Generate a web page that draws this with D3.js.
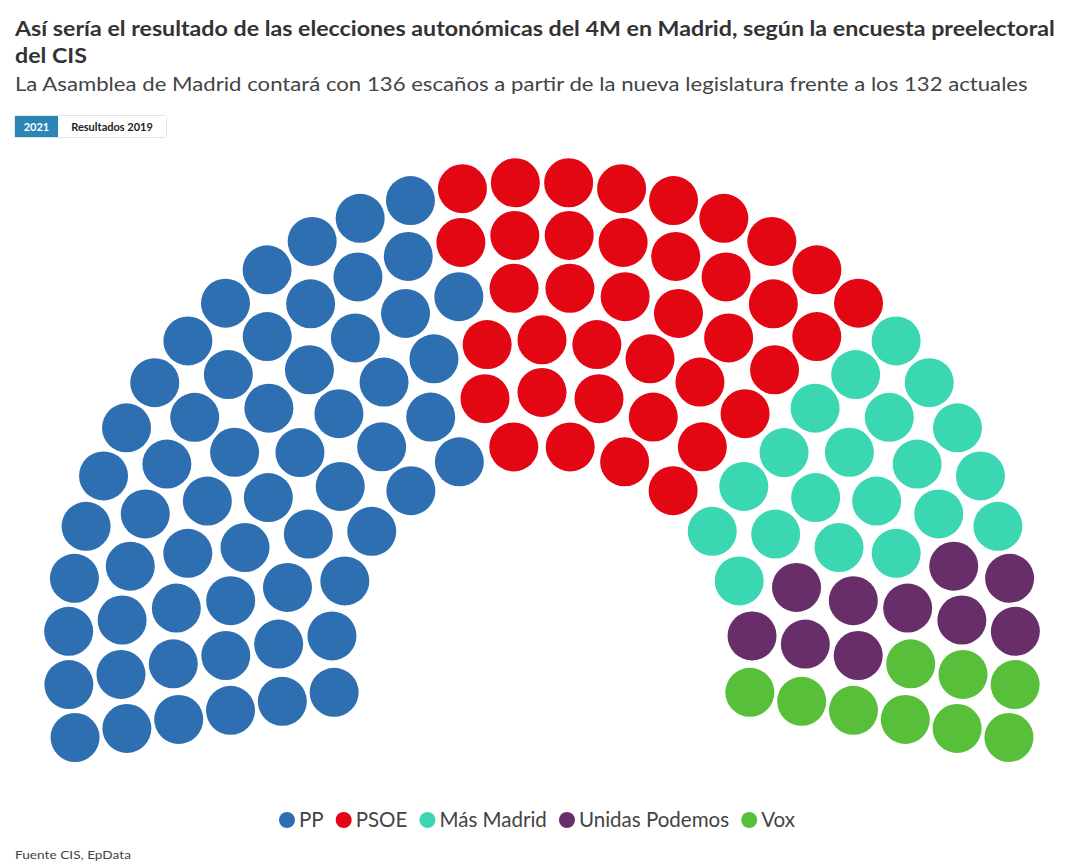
<!DOCTYPE html>
<html><head><meta charset="utf-8">
<script src="https://cdn.jsdelivr.net/npm/d3@7"></script>
<style>
body{margin:0;background:#fff}
text{font-family:Lato,"Noto Sans",sans-serif}
</style>
</head><body>
<svg id="c" width="1080" height="865"></svg>
<script>
// ---- data ----
const parties = ["PP", "PSOE", "Más Madrid", "Unidas Podemos", "Vox"];
const seats = [59, 38, 20, 10, 9];
const colors = ["#2D6FB1", "#E30613", "#3BD7B2", "#672E69", "#58BF3A"];
const rowSeats = [14, 17, 21, 24, 28, 32];
const titleLines = ["Así sería el resultado de las elecciones autonómicas del 4M en Madrid, según la encuesta preelectoral", "del CIS"];
const subtitle = "La Asamblea de Madrid contará con 136 escaños a partir de la nueva legislatura frente a los 132 actuales";
const buttons = ["2021", "Resultados 2019"];
const source = "Fuente CIS, EpData";

// ---- layout ----
const W = 1080, H = 865;
const svg = d3.select("#c");
svg.append("rect").attr("width", W).attr("height", H).attr("fill", "#fff");

// title
const tg = svg.append("g");
const t1 = tg.append("text").attr("x", 15).attr("y", 36).attr("font-size", 21).attr("font-weight", 700).attr("fill", "#333").text(titleLines[0]);
tg.append("text").attr("x", 15).attr("y", 63).attr("font-size", 21).attr("font-weight", 700).attr("fill", "#333").text(titleLines[1]);
const tw = t1.node().getComputedTextLength();
const tsx = 1040 / tw;
tg.attr("transform", `translate(15,0) scale(${tsx},1) translate(-15,0)`);

const sg = svg.append("g");
const st = sg.append("text").attr("x", 15).attr("y", 91).attr("font-size", 20).attr("fill", "#444").text(subtitle);
const sw = st.node().getComputedTextLength();
sg.attr("transform", `translate(15,0) scale(${1013 / sw},1) translate(-15,0)`);

// buttons
const bx = d3.scaleOrdinal().domain(buttons).range([15, 58]);
const bw = d3.scaleOrdinal().domain(buttons).range([43, 108]);
const bg = svg.append("g");
bg.append("rect").attr("x", 14.5).attr("y", 115.5).attr("width", 152).attr("height", 22).attr("rx", 2).attr("fill", "#fff").attr("stroke", "#e2e2e2");
buttons.forEach((b, i) => {
  bg.append("rect").attr("x", bx(b)).attr("y", 116).attr("width", bw(b)).attr("height", 21)
    .attr("fill", i === 0 ? "#2B86B5" : "#fff");
  bg.append("text").attr("x", bx(b) + bw(b) / 2).attr("y", 130.5).attr("text-anchor", "middle")
    .attr("font-size", 11).attr("font-weight", 700).attr("fill", i === 0 ? "#fff" : "#222").text(b);
});

// parliament
const cx = 542, cy = 656;
const extra = 9.9 * Math.PI / 180;
const seatR = 24.5;
const rScale = d3.scaleLinear().domain([0, rowSeats.length - 1]).range([211, 474]);
const angle = d3.scaleLinear().domain([0, 1]).range([Math.PI + extra, -extra]);
const color = d3.scaleOrdinal().domain(parties).range(colors);

let all = [];
rowSeats.forEach((n, k) => {
  for (let i = 0; i < n; i++) all.push({ ring: k, t: i / (n - 1) });
});
all.sort((a, b) => a.t - b.t || a.ring - b.ring);
const cum = d3.cumsum(seats);
all.forEach((s, idx) => {
  s.party = parties[d3.bisectRight(Array.from(cum), idx)];
  const r = rScale(s.ring), a = angle(s.t);
  s.x = cx + r * Math.cos(a);
  s.y = cy - r * Math.sin(a);
});
svg.append("g").selectAll("circle").data(all).join("circle")
  .attr("cx", d => d.x).attr("cy", d => d.y).attr("r", seatR)
  .attr("fill", d => color(d.party));

// legend
const lg = svg.append("g");
let fs = 20;
const tmp = parties.map(p => lg.append("text").attr("font-size", fs).text(p));
const widths = tmp.map(t => t.node().getComputedTextLength());
tmp.forEach(t => t.remove());
const textTotal = d3.sum(widths);
const target = 368;
fs = fs * target / textTotal;
const scaledW = widths.map(w => w * target / textTotal);
const itemW = scaledW.map(w => 8 + 12 + w);
const gap = 12;
const total = d3.sum(itemW) + gap * (parties.length - 1);
let x0 = 537 - total / 2;
parties.forEach((p, i) => {
  lg.append("circle").attr("cx", x0 + 8).attr("cy", 820).attr("r", 8).attr("fill", color(p));
  lg.append("text").attr("x", x0 + 20).attr("y", 827).attr("font-size", fs).attr("fill", "#444").text(p);
  x0 += itemW[i] + gap;
});

// source
const fg = svg.append("g");
const ft = fg.append("text").attr("x", 15).attr("y", 859).attr("font-size", 12).attr("fill", "#444").text(source);
fg.attr("transform", `translate(15,0) scale(${116 / ft.node().getComputedTextLength()},1) translate(-15,0)`);
</script>
</body></html>
